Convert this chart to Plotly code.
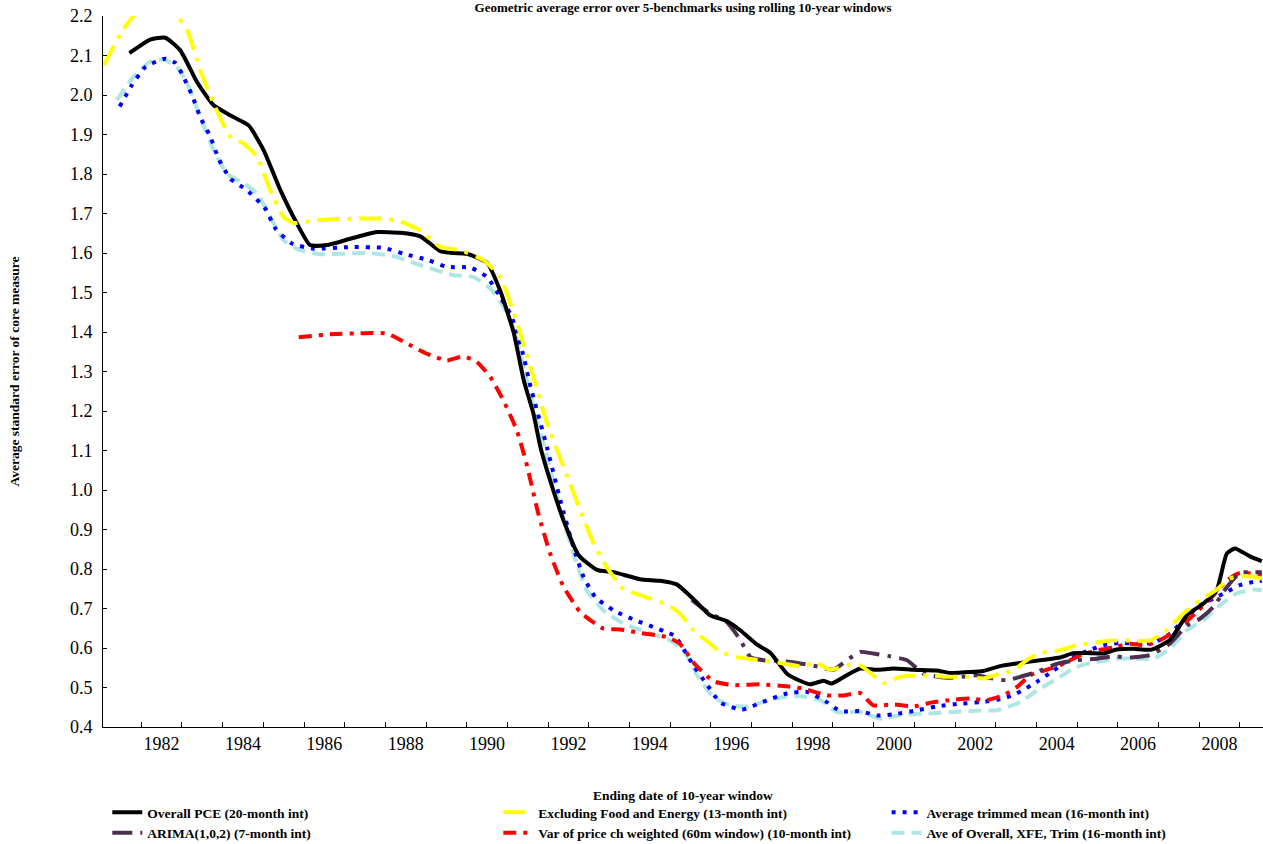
import plotly.graph_objects as go

# ---------------- data ----------------
pce_x = [1981.21, 1981.72, 1982.09, 1982.46, 1982.87, 1983.28, 1983.77, 1984.14, 1984.51, 1984.92,
         1985.33, 1985.65, 1986.06, 1986.64, 1987.29, 1987.87, 1988.36, 1988.85, 1989.18, 1989.5,
         1990.0, 1990.32, 1990.65, 1990.9, 1991.14, 1991.31, 1991.55, 1991.88, 1992.25, 1992.7,
         1993.11, 1993.76, 1994.25, 1994.66, 1995.07, 1995.48, 1995.89, 1996.22, 1996.63, 1996.96,
         1997.37, 1997.69, 1997.94, 1998.27, 1998.47, 1998.84, 1999.17, 1999.58, 1999.99, 2000.48,
         2001.05, 2001.38, 2001.87, 2002.2, 2002.61, 2003.1, 2003.59, 2004.08, 2004.41, 2004.82,
         2005.15, 2005.47, 2005.88, 2006.33, 2006.78, 2007.2, 2007.6, 2007.93, 2008.18, 2008.38,
         2008.75, 2009.04]
pce_y = [2.106, 2.14, 2.145, 2.113, 2.033, 1.974, 1.944, 1.923, 1.86, 1.759,
         1.674, 1.62, 1.62, 1.636, 1.653, 1.651, 1.642, 1.605, 1.6, 1.598,
         1.575, 1.505, 1.40, 1.278, 1.193, 1.109, 1.024, 0.923, 0.835, 0.798,
         0.792, 0.774, 0.770, 0.761, 0.724, 0.683, 0.668, 0.645, 0.609, 0.588,
         0.535, 0.517, 0.508, 0.517, 0.51, 0.531, 0.548, 0.545, 0.548, 0.545,
         0.543, 0.537, 0.539, 0.542, 0.554, 0.562, 0.569, 0.576, 0.587, 0.587,
         0.586, 0.596, 0.598, 0.596, 0.62, 0.683, 0.712, 0.746, 0.839, 0.852,
         0.832, 0.82]

xfe_x = [1980.58, 1980.99, 1981.31, 1981.8, 1982.2, 1982.38, 1982.63, 1982.95, 1983.28, 1983.69,
         1984.02, 1984.35, 1984.67, 1985.0, 1985.24, 1985.82, 1986.64, 1987.46, 1987.87, 1988.36,
         1988.85, 1989.34, 1989.91, 1990.32, 1990.65, 1991.14, 1991.47, 1991.88, 1992.29, 1992.62,
         1992.94, 1993.35, 1993.84, 1994.42, 1994.74, 1995.07, 1995.48, 1995.73, 1996.14, 1996.71,
         1997.28, 1997.69, 1998.1, 1998.43, 1998.84, 1999.17, 1999.49, 1999.74, 2000.15, 2000.81,
         2001.3, 2001.79, 2002.2, 2002.61, 2002.93, 2003.26, 2003.59, 2004.08, 2004.49, 2004.82,
         2005.31, 2005.8, 2006.29, 2006.7, 2007.11, 2007.52, 2007.93, 2008.25, 2008.66, 2009.04]
xfe_y = [2.075, 2.155, 2.2, 2.235, 2.215, 2.2, 2.164, 2.063, 1.978, 1.894,
         1.877, 1.843, 1.759, 1.691, 1.676, 1.683, 1.687, 1.687, 1.68, 1.657,
         1.615, 1.607, 1.582, 1.539, 1.45, 1.286, 1.17, 1.058, 0.949, 0.864,
         0.805, 0.75, 0.731, 0.71, 0.687, 0.645, 0.611, 0.59, 0.577, 0.569,
         0.561, 0.554, 0.562, 0.545, 0.556, 0.556, 0.531, 0.511, 0.527, 0.531,
         0.527, 0.527, 0.523, 0.535, 0.543, 0.569, 0.587, 0.594, 0.607, 0.611,
         0.619, 0.619, 0.619, 0.645, 0.687, 0.72, 0.748, 0.776, 0.782, 0.776]

trim_x = [1980.97, 1981.27, 1981.6, 1982.09, 1982.34, 1982.5, 1982.75, 1982.95, 1983.2, 1983.4,
          1983.69, 1984.1, 1984.55, 1984.8, 1985.2, 1985.74, 1986.64, 1987.46, 1987.95, 1988.52,
          1989.01, 1989.59, 1990.0, 1990.32, 1990.6, 1990.9, 1991.06, 1991.47, 1991.8, 1992.12,
          1992.37, 1992.66, 1993.11, 1993.6, 1994.09, 1994.34, 1994.62, 1995.07, 1995.4, 1995.73,
          1996.26, 1996.79, 1997.37, 1997.86, 1998.35, 1998.68, 1999.17, 1999.58, 1999.99, 2000.56,
          2001.05, 2001.63, 2002.12, 2002.69, 2003.02, 2003.51, 2003.92, 2004.33, 2004.74, 2005.15,
          2005.56, 2005.98, 2006.38, 2006.78, 2007.2, 2007.52, 2007.85, 2008.18, 2008.5, 2008.83,
          2009.04]
trim_y = [1.971, 2.025, 2.071, 2.092, 2.081, 2.054, 1.999, 1.944, 1.894, 1.839,
          1.788, 1.759, 1.712, 1.662, 1.624, 1.611, 1.615, 1.613, 1.598, 1.583,
          1.565, 1.563, 1.539, 1.489, 1.44, 1.337, 1.265, 1.109, 0.974, 0.856,
          0.78, 0.729, 0.695, 0.672, 0.653, 0.643, 0.63, 0.556, 0.508, 0.462,
          0.444, 0.464, 0.485, 0.489, 0.463, 0.44, 0.44, 0.429, 0.432, 0.442,
          0.452, 0.459, 0.463, 0.472, 0.485, 0.514, 0.543, 0.573, 0.592, 0.607,
          0.613, 0.611, 0.613, 0.636, 0.679, 0.708, 0.725, 0.742, 0.759, 0.767,
          0.77]

arima_x = [1995.03, 1995.48, 1995.89, 1996.22, 1996.47, 1996.8, 1997.21, 1997.69, 1998.19, 1998.51,
           1998.84, 1999.17, 1999.49, 1999.9, 2000.32, 2000.73, 2001.3, 2001.79, 2002.03, 2002.36,
           2002.77, 2003.1, 2003.51, 2004.0, 2004.49, 2004.98, 2005.39, 2005.8, 2006.29, 2006.78,
           2007.2, 2007.52, 2007.85, 2008.18, 2008.5, 2008.83, 2009.04]
arima_y = [0.722, 0.687, 0.666, 0.621, 0.577, 0.569, 0.567, 0.561, 0.552, 0.545,
           0.569, 0.59, 0.586, 0.579, 0.569, 0.535, 0.525, 0.528, 0.531, 0.524,
           0.518, 0.527, 0.539, 0.56, 0.569, 0.573, 0.579, 0.576, 0.582, 0.611,
           0.657, 0.674, 0.704, 0.754, 0.79, 0.792, 0.792]

var_x = [1985.37, 1986.15, 1986.96, 1987.54, 1988.03, 1988.52, 1989.01, 1989.42, 1989.75, 1990.08,
         1990.4, 1990.73, 1990.96, 1991.26, 1991.55, 1991.88, 1992.29, 1992.86, 1993.27, 1993.76,
         1994.42, 1994.74, 1995.1, 1995.56, 1996.06, 1996.71, 1997.37, 1997.78, 1998.35, 1998.76,
         1999.17, 1999.49, 1999.99, 2000.48, 2000.97, 2001.46, 2001.87, 2002.28, 2002.69, 2003.02,
         2003.35, 2003.76, 2004.16, 2004.57, 2004.98, 2005.39, 2005.8, 2006.21, 2006.62, 2007.03,
         2007.44, 2007.85, 2008.18, 2008.5, 2009.04]
var_y = [1.387, 1.394, 1.397, 1.396, 1.371, 1.345, 1.328, 1.338, 1.324, 1.286,
         1.227, 1.151, 1.07, 0.94, 0.839, 0.755, 0.691, 0.649, 0.647, 0.638,
         0.628, 0.611, 0.56, 0.516, 0.506, 0.508, 0.503, 0.497, 0.48, 0.48,
         0.486, 0.455, 0.457, 0.452, 0.463, 0.469, 0.472, 0.468, 0.48, 0.501,
         0.531, 0.545, 0.56, 0.581, 0.594, 0.601, 0.611, 0.607, 0.624, 0.653,
         0.691, 0.733, 0.771, 0.79, 0.785]

ave_x = [1980.9, 1981.31, 1981.72, 1982.05, 1982.38, 1982.63, 1982.95, 1983.28, 1983.61, 1984.02,
         1984.35, 1984.67, 1985.0, 1985.41, 1985.9, 1987.05, 1987.7, 1988.36, 1989.18, 1989.67,
         1990.08, 1990.41, 1990.69, 1990.98, 1991.47, 1991.84, 1992.12, 1992.45, 1992.86, 1993.35,
         1993.93, 1994.5, 1994.83, 1995.16, 1995.56, 1995.97, 1996.38, 1996.79, 1997.28, 1997.69,
         1998.19, 1998.6, 1999.17, 1999.66, 2000.15, 2000.81, 2001.46, 2002.12, 2002.52, 2003.1,
         2003.51, 2004.0, 2004.49, 2004.98, 2005.47, 2005.98, 2006.38, 2006.78, 2007.2, 2007.6,
         2008.01, 2008.42, 2008.83, 2009.04]
ave_y = [1.987, 2.046, 2.084, 2.09, 2.071, 2.029, 1.944, 1.86, 1.801, 1.776,
         1.75, 1.691, 1.632, 1.607, 1.597, 1.6, 1.592, 1.569, 1.544, 1.539,
         1.51, 1.463, 1.397, 1.278, 1.084, 0.94, 0.839, 0.746, 0.695, 0.662,
         0.64, 0.619, 0.594, 0.531, 0.476, 0.455, 0.452, 0.463, 0.476, 0.478,
         0.468, 0.438, 0.438, 0.421, 0.43, 0.434, 0.438, 0.442, 0.442, 0.463,
         0.492, 0.522, 0.552, 0.565, 0.573, 0.573, 0.573, 0.598, 0.645, 0.67,
         0.708, 0.738, 0.748, 0.746]

x_label_years = [1982, 1984, 1986, 1988, 1990, 1992, 1994, 1996, 1998, 2000, 2002, 2004, 2006, 2008]
x_label_text = [str(v) for v in x_label_years]
x_minor_ticks = [1981.5 + k for k in range(28)]
y_tick_vals = [0.4, 0.5, 0.6, 0.7, 0.8, 0.9, 1.0, 1.1, 1.2, 1.3, 1.4, 1.5, 1.6, 1.7, 1.8, 1.9, 2.0, 2.1, 2.2]
y_tick_text = ["0.4", "0.5", "0.6", "0.7", "0.8", "0.9", "1.0", "1.1", "1.2", "1.3",
               "1.4", "1.5", "1.6", "1.7", "1.8", "1.9", "2.0", "2.1", "2.2"]

names = {
    "pce": "Overall PCE (20-month int)",
    "xfe": "Excluding Food and Energy (13-month int)",
    "trim": "Average trimmed mean (16-month int)",
    "arima": "ARIMA(1,0,2) (7-month int)",
    "var": "Var of price ch weighted (60m window) (10-month int)",
    "ave": "Ave of Overall, XFE, Trim (16-month int)",
}

FONT = "Liberation Serif, Times New Roman, serif"
SMALL = 13.5

fig = go.Figure()

def add(x, y, name, color, dash, legend, rank):
    fig.add_trace(go.Scatter(
        x=x, y=y, mode="lines", name=name, legend=legend, legendrank=rank,
        line=dict(color=color, width=4, dash=dash, shape="spline", smoothing=0.5),
    ))

# drawing order (back to front)
add(ave_x, ave_y, names["ave"], "#AEE6E6", "13px,7px", "legend3", 2)
add(trim_x, trim_y, names["trim"], "#0000FF", "4px,7px", "legend3", 1)
add(var_x, var_y, names["var"], "#FF0000", "13px,7px,4px,7px", "legend2", 2)
add(arima_x, arima_y, names["arima"], "#4D3050", "20px,8px,4px,8px", "legend", 2)
add(pce_x, pce_y, names["pce"], "#000000", "solid", "legend", 1)
add(xfe_x, xfe_y, names["xfe"], "#FFFF00", "22px,8px,4px,8px", "legend2", 1)

LEG_Y = (727 - 797) / 711

def legend_at(xpx):
    return dict(
        orientation="v", x=(xpx - 103) / 1160, xanchor="left", y=LEG_Y, yanchor="top",
        font=dict(family=FONT, size=SMALL, weight="bold", color="black"),
        bgcolor="rgba(0,0,0,0)", traceorder="normal", tracegroupgap=0,
        itemwidth=30,
    )

fig.update_layout(
    width=1263, height=844,
    margin=dict(l=103, r=0, t=16, b=117, autoexpand=False),
    paper_bgcolor="white", plot_bgcolor="white",
    font=dict(family=FONT, color="black"),
    showlegend=True,
    title=dict(
        text="Geometric average error over 5-benchmarks using rolling 10-year windows",
        font=dict(family=FONT, size=13, weight="bold", color="black"),
        x=0.5, xref="paper", xanchor="center",
        y=1 - 7 / 844, yref="container", yanchor="middle",
    ),
    legend=legend_at(107.3),
    legend2=legend_at(498.3),
    legend3=legend_at(886.6),
    xaxis=dict(
        range=[1980.56, 2009.07],
        tickmode="array", tickvals=x_label_years, ticktext=x_label_text,
        ticks="", showgrid=False, zeroline=False,
        showline=True, linecolor="black", linewidth=1,
        tickfont=dict(family=FONT, size=18, color="black"),
        minor=dict(tickmode="array", tickvals=x_minor_ticks, ticks="inside",
                   ticklen=5, tickcolor="black", tickwidth=1, showgrid=False),
    ),
    yaxis=dict(
        range=[0.4, 2.2],
        tickmode="array", tickvals=y_tick_vals, ticktext=y_tick_text,
        ticks="inside", ticklen=4, tickcolor="black", tickwidth=1,
        showgrid=False, zeroline=False,
        showline=True, linecolor="black", linewidth=1,
        tickfont=dict(family=FONT, size=18, color="black"),
        ticklabelstandoff=6,
    ),
    annotations=[
        dict(text="<b>Average standard error of core measure</b>", textangle=-90,
             xref="paper", yref="paper", x=(14 - 103) / 1160, y=0.5,
             xanchor="center", yanchor="middle", showarrow=False,
             font=dict(family=FONT, size=SMALL, color="black")),
        dict(text="<b>Ending date of 10-year window</b>",
             xref="paper", yref="paper", x=0.5, y=(727 - 795) / 711,
             xanchor="center", yanchor="middle", showarrow=False,
             font=dict(family=FONT, size=SMALL, color="black")),
    ],
)

fig.write_html("out.html", config={"displayModeBar": False},
               post_script="document.body.style.margin='0';")
